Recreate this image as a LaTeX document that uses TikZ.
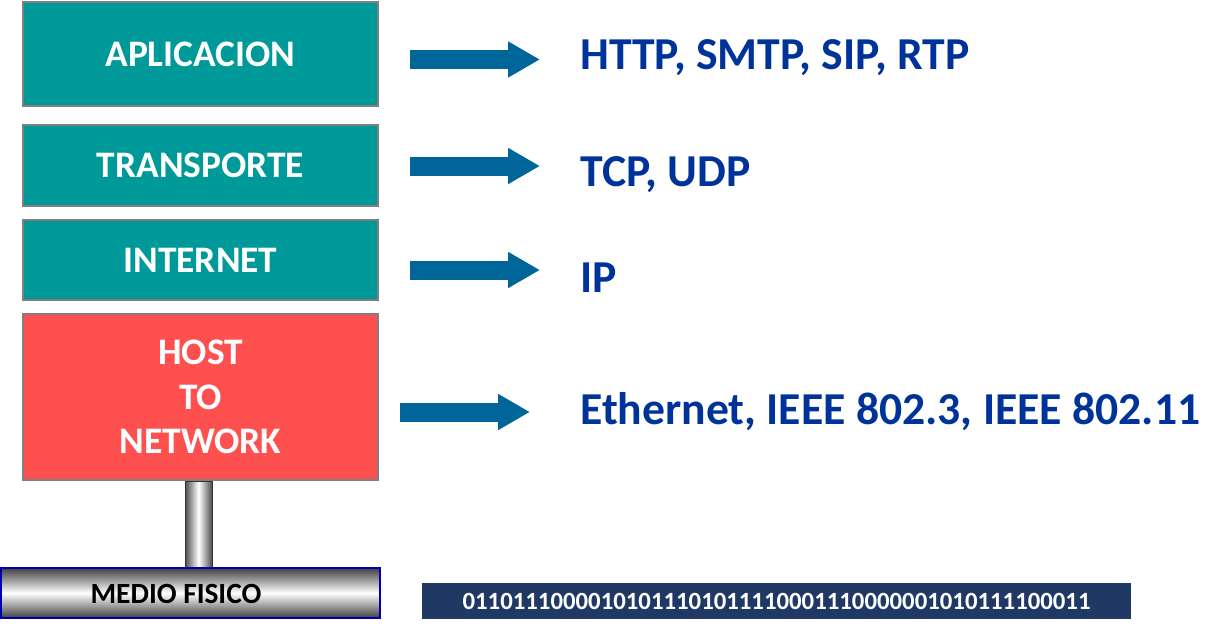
\documentclass[tikz,border=0pt]{standalone}
\usepackage{fontspec}
\setmainfont{Carlito}
\usetikzlibrary{arrows.meta}
\definecolor{capa}{HTML}{009999}
\definecolor{capahost}{HTML}{FF5050}
\definecolor{flecha}{HTML}{006699}
\definecolor{proto}{HTML}{003399}
\definecolor{bits}{HTML}{203864}
\tikzset{
	capabox/.style={draw=black!50, line width=1.1pt, fill=capa, text=white, font=\fontsize{21.3}{25.5}\selectfont\bfseries, minimum width=7.1cm, align=center},
	protolabel/.style={anchor=base west, text=proto, font=\fontsize{26}{31}\selectfont\bfseries, inner sep=0pt},
	bloque/.style={flecha, line width=0.38cm, -{Triangle[length=0.64cm,width=0.68cm]}}
}

\begin{document}
\begin{tikzpicture}[x=0.02cm, y=-0.02cm]
			%%%%% START %%%%%
			\useasboundingbox (0, 0) rectangle (1229, 632);
			
			\node[capabox, minimum height=2.08cm] (aplicacion) at (200.5, 54) {APLICACION};
			\node[capabox, minimum height=1.62cm] (transporte) at (200.5, 165.5) {TRANSPORTE};
			\node[capabox, minimum height=1.6cm] (internet) at (200.5, 260) {INTERNET};
			\node[capabox, fill=capahost, minimum height=3.32cm] (host) at (200.5, 397) {HOST\\TO\\NETWORK};
			
			% cable y medio fisico
			\shade[left color=black!70, right color=black!70, middle color=white, draw=black!80, line width=0.4pt] (185, 481) rectangle (212, 568);
			\shade[top color=black!75, bottom color=black!75, middle color=white] (1, 568) rectangle (380, 618);
			\draw[color=blue!70!black, line width=1.1pt] (1, 568) rectangle (380, 618);
			\node[font=\fontsize{16.7}{19}\selectfont\bfseries] (medio) at (176, 594) {MEDIO FISICO};
			
			\node[fill=bits, text=white, font=\fontsize{14.1}{17}\selectfont\bfseries, minimum width=14.18cm, minimum height=0.72cm, inner sep=0pt] (binario) at (776.5, 601) {01101110000101011101011110001110000001010111100011};
			
			% protocolos
			\node[protolabel] (p1) at (580, 69) {HTTP, SMTP, SIP, RTP};
			\node[protolabel] (p2) at (580, 186) {TCP, UDP};
			\node[protolabel] (p3) at (580, 292) {IP};
			\node[protolabel] (p4) at (580, 424) {Ethernet, IEEE 802.3, IEEE 802.11};
			
			\coordinate (a1) at (410, 59.5);
			\coordinate (a2) at (410, 166);
			\coordinate (a3) at (410, 270);
			\coordinate (a4) at (400, 412);
			\draw[bloque] (a1) -- (a1 -| 540, 0);
			\draw[bloque] (a2) -- (a2 -| 540, 0);
			\draw[bloque] (a3) -- (a3 -| 540, 0);
			\draw[bloque] (a4) -- (a4 -| 530, 0);
			%%%%% END %%%%%
\end{tikzpicture}
\end{document}
